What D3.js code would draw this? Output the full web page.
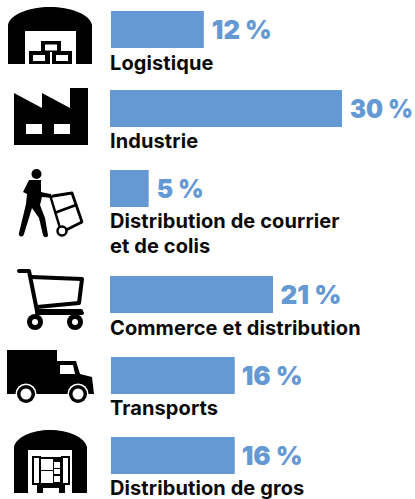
<!DOCTYPE html>
<html><head><meta charset="utf-8">
<script src="https://cdn.jsdelivr.net/npm/d3@7/dist/d3.min.js"></script>
<style>html,body{margin:0;padding:0;background:#fff}svg{display:block}
.lab{font-family:Inter,"Open Sans",sans-serif;font-weight:700;font-size:20px;letter-spacing:.1px;fill:#0a0a0a}
.val{font-family:Inter,"Open Sans",sans-serif;font-weight:900;font-size:26px;fill:#6499d3}</style>
</head><body><script>
const categories=[["Logistique"],["Industrie"],["Distribution de courrier","et de colis"],["Commerce et distribution"],["Transports"],["Distribution de gros"]];
const values=[12,30,5,21,16,16];
const barColor="#6499d3";
const barTops=[11,90,170,276,357,437];
const barLeft=[111,110,110,110,111,111];
const labelBase=[70,148,228,335,415,495];
const valueGap=[8,8,8,8,7,7];
const valueWidth=[60,63,47,61,61,61];
const W=415,H=499;
const x=d3.scaleLinear().domain([0,30]).range([0,232]);
const svg=d3.select("body").append("svg").attr("width",W).attr("height",H);
const rows=svg.selectAll("g.row").data(values).join("g").attr("class","row");
rows.append("rect").attr("x",(d,i)=>barLeft[i]).attr("y",(d,i)=>barTops[i]).attr("height",37).attr("width",d=>x(d)+(d===21?0.6:0)).attr("fill",barColor);
rows.append("text").attr("class","val").attr("x",(d,i)=>barLeft[i]+x(d)+valueGap[i]).attr("y",(d,i)=>barTops[i]+28)
  .attr("textLength",(d,i)=>valueWidth[i]).attr("lengthAdjust","spacingAndGlyphs").text(d=>d+" %");
categories.forEach((c,i)=>c.forEach((t,j)=>svg.append("text").attr("class","lab").attr("x",110).attr("y",labelBase[i]+j*25).text(t)));
// pictograms
const g=svg.append("g").attr("fill","#000");
const P=(d,f="#000")=>g.append("path").attr("d",d).attr("fill",f);
const L=(d,w)=>g.append("path").attr("d",d).attr("fill","none").attr("stroke","#000").attr("stroke-width",w).attr("stroke-linejoin","round").attr("stroke-linecap","round");
const C=(cx,cy,r,f)=>g.append("circle").attr("cx",cx).attr("cy",cy).attr("r",r).attr("fill",f);
const R=(a,b,w,h,f)=>g.append("rect").attr("x",a).attr("y",b).attr("width",w).attr("height",h).attr("fill",f);
// warehouse
P("M8 64V25C10 14 30 7 50 7S90 14 92 25V64H76V31H25V64Z");
R(41,41,20,11,"#000");R(45,44.5,12,6,"#fff");
R(29,51,21,13,"#000");R(33,55,12,6,"#fff");
R(52,51,20,13,"#000");R(56,55,12,6,"#fff");
// factory
P("M14 93L42 108V93L70 108V88H88V145H14Z");
R(26,124,16,10,"#fff");R(54,124,16,10,"#fff");
// worker
C(36.5,174,5,"#000");
P("M29 180L41 180L41 192L50 194L53 198L42 197L40 205L45 218L48 235C48 238 44 238 43 235L39 218L32 208L24 234C23 238 18 237 19 233L26 204L27 194L23 192Z");
L("M50 195L60 228",2.5);
L("M53 196L72 193L82 222L62 232",2.8);
L("M57 212L76 205",2.8);
g.append("circle").attr("cx",62).attr("cy",231).attr("r",4.5).attr("fill","#fff").attr("stroke","#000").attr("stroke-width",2.5);
// cart
L("M19 271H29L37 311H81",4);
L("M31 277L82 279L79 303L37 307",4);
L("M37 313H82",4);
C(35,322,8,"#000");C(35,322,3,"#fff");C(75,322,8,"#000");C(75,322,3,"#fff");
// truck
P("M7 350H57V361H76L80 374L92 377L94 394H7Z");
P("M60 365H73L75 374H60Z","#fff");
[26,78].forEach(c=>{C(c,394,10.5,"#fff");C(c,394,9,"#000");C(c,394,5.5,"#fff");});
// warehouse 2
P("M14 493V447C16 437 32 430 50 430S85 437 87 447V493H72V450H28V493Z");
R(32,456,9,29,"#000");R(34,458,5,25,"#fff");
R(61,456,9,29,"#000");R(63,458,5,25,"#fff");
R(39,457,24,28,"#000");
R(41,459,12,11,"#fff");R(41,471,12,12,"#fff");R(54,462,6,6,"#fff");R(54,469,6,5,"#fff");R(54,476,6,6,"#fff");
R(37,485,6,8,"#000");R(59,485,6,8,"#000");R(37,485,28,3,"#000");
</script></body></html>
